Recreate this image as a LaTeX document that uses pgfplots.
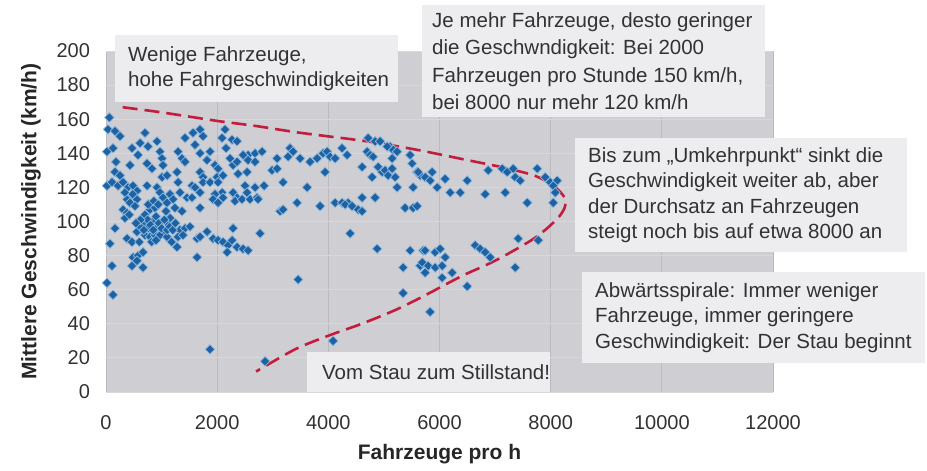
\documentclass[border=0pt]{standalone}
\usepackage{pgfplots}
\pgfplotsset{compat=1.18}
\usepackage{fontspec}
\setmainfont{Liberation Sans}
\definecolor{plotbg}{RGB}{206,206,211}
\definecolor{gridx}{RGB}{186,186,192}
\definecolor{gridy}{RGB}{216,216,220}
\definecolor{boxc}{RGB}{237,237,240}
\definecolor{txt}{RGB}{50,50,50}
\definecolor{curvec}{RGB}{196,28,60}
\definecolor{ptc}{RGB}{30,98,163}
\definecolor{pthalo}{RGB}{140,185,222}

\pgfplotstableread{
x y
60 161
36 154
162 153
252 150
18 141
126 143
180 135
162 129
252 127
18 121
108 123
216 121
306 123
396 120
486 121
558 118
468 114
558 113
378 113
432 111
306 107
378 105
342 102
522 109
162 96
378 90
468 88
72 87
486 79
576 80
666 82
468 74
558 77
666 73
108 74
18 64
126 57
702 152
468 143
612 146
756 144
918 147
972 141
576 139
1422 149
1566 152
1692 154
1746 150
1602 145
2142 154
2088 149
2268 148
2358 147
2160 143
2556 139
2682 140
432 133
738 134
828 131
1008 137
1026 133
1008 126
1098 127
1278 129
1296 141
1368 137
1422 135
1692 140
1872 141
1818 136
1962 133
2016 131
1692 129
1746 126
1998 126
2106 127
2232 137
2286 133
2358 135
2466 139
2556 136
2538 129
2682 135
2376 128
738 121
918 120
972 117
1026 114
1152 116
1206 113
1296 123
1332 117
1458 114
1548 121
1602 120
1746 123
1872 123
1692 117
2016 123
2088 117
2106 114
1962 116
2286 117
2358 114
2502 121
2538 117
2682 120
792 107
882 108
1098 111
1368 106
1548 114
1692 108
1926 113
2016 111
2322 112
2448 113
2592 113
2718 114
3132 106
666 98
756 96
846 100
936 97
1026 94
1098 99
1152 102
702 92
792 91
882 92
972 92
1098 91
558 94
612 97
1332 95
1422 96
1512 97
1296 91
1386 92
1638 90
1692 91
1818 94
1926 90
2016 89
2106 88
2196 86
2268 89
2358 85
2466 84
2556 83
2286 96
2772 93
2180 82
1278 85
1638 79
1872 25
2862 18
3456 66
2808 141
3078 137
2988 130
3078 131
2844 121
3186 123
3312 143
3366 141
3276 138
3492 137
3672 135
3798 137
3906 140
3978 141
4032 138
4122 137
3942 129
4248 143
4338 139
3618 120
3438 111
4122 111
4248 111
4356 111
4716 149
4842 147
4932 147
4698 141
4752 139
4806 138
4608 132
4788 126
4896 132
4968 129
5022 130
5076 127
5112 144
5166 142
5238 141
5148 137
5148 131
5202 126
5238 120
4608 114
4842 114
5472 139
5508 134
5598 129
5652 127
5526 120
2736 113
3186 107
3852 109
4302 110
4428 109
4536 107
4608 106
5382 108
5526 108
4392 93
4878 84
5472 83
5706 83
5346 73
5652 74
5346 58
4086 30
5058 144
5616 129
5742 126
5868 129
5832 124
5958 120
6102 125
6192 117
6372 117
6498 124
5598 109
6822 116
6876 130
7128 131
7218 129
7182 117
7362 126
7452 124
7326 131
7578 111
7758 131
7902 126
7992 123
8118 124
8046 121
8082 117
8046 111
7416 90
7776 89
6642 86
6732 84
6822 82
6912 79
7362 73
5742 83
5922 82
6012 84
6102 79
5688 76
5796 74
5922 73
6048 74
5742 70
6048 67
6228 70
6498 62
5832 47
700 104
750 101
800 98
850 95
900 103
950 99
1000 96
1050 101
1100 95
1150 97
620 101
680 95
820 88
900 89
1200 95
1250 99
1180 88
600 88
540 99
760 110
860 112
940 110
1080 106
1240 108
420 104
480 116
340 117
}\pts

\pgfplotstableread{
x y
300 167
1000 164
2000 159
2700 156
3500 152
4700 147
5600 142
6500 136
7100 132
7700 127
8050 121
8250 114
8250 108
8100 101
7700 90
7000 77
6400 68
5700 56
5200 48
4600 40
4000 33
3400 25
2700 12
}\curve

\begin{document}
\begin{tikzpicture}[
  boxtxt/.style={anchor=west, align=left, inner sep=0pt, text=txt,
    font=\fontsize{20.5bp}{25.5bp}\selectfont}]
\begin{axis}[
  at={(0,0)}, anchor=south west,
  scale only axis, width=667bp, height=341bp,
  xmin=0, xmax=12000, ymin=0, ymax=200,
  xtick={0,2000,...,12000}, ytick={0,20,...,200},
  axis background/.style={fill=plotbg},
  xmajorgrids, ymajorgrids,
  x grid style={gridx, line width=0.9bp},
  y grid style={gridy, line width=0.9bp},
  axis line style={draw=none},
  major tick length=0pt,
  tick label style={font=\fontsize{20bp}{24bp}\selectfont, text=txt},
  /pgf/number format/assume math mode=true,
  /pgf/number format/1000 sep={},
  scaled x ticks=false,
  xticklabel style={anchor=north, yshift=-20bp},
  yticklabel style={anchor=east, xshift=-12.5bp},
  xlabel={Fahrzeuge pro h},
  ylabel={Mittlere Geschwindigkeit (km/h)},
  every axis x label/.style={at={(axis description cs:0.5,0)}, yshift=-62bp, anchor=center},
  every axis y label/.style={at={(axis description cs:0,0.5)}, xshift=-75bp, rotate=90, anchor=center},
  label style={font=\bfseries\fontsize{21bp}{25bp}\selectfont, text=black!85},
  clip=false,
]
\addplot[only marks, mark=square*, mark size=3.4bp,
  mark options={rotate=45, fill=ptc, draw=pthalo, line width=0.7bp}] table[x=x,y=y] {\pts};
\addplot[smooth, curvec, line width=2.6bp, dash pattern=on 15bp off 7bp] table[x=x,y=y] {\curve};
\end{axis}

% annotation boxes (origin = lower-left of plot area, 1bp = 1px)
\fill[boxc] (9bp,290bp) rectangle (292bp,357bp);
\node[boxtxt] at (22bp,323.5bp) {Wenige Fahrzeuge,\\hohe Fahrgeschwindigkeiten};

\fill[boxc] (316bp,275bp) rectangle (659bp,387bp);
\node[boxtxt, font=\fontsize{20.5bp}{27.5bp}\selectfont] at (326bp,331bp) {Je mehr Fahrzeuge, desto geringer\\die Geschwndigkeit: Bei 2000\\Fahrzeugen pro Stunde 150 km/h,\\bei 8000 nur mehr 120 km/h};

\fill[boxc] (469bp,140bp) rectangle (801bp,254bp);
\node[boxtxt] at (482bp,197bp) {Bis zum „Umkehrpunkt“ sinkt die\\Geschwindigkeit weiter ab, aber\\der Durchsatz an Fahrzeugen\\steigt noch bis auf etwa 8000 an};

\fill[boxc] (476bp,29bp) rectangle (819bp,120bp);
\node[boxtxt] at (489bp,74.5bp) {Abwärtsspirale: Immer weniger\\Fahrzeuge, immer geringere\\Geschwindigkeit: Der Stau beginnt};

\fill[boxc] (201bp,0bp) rectangle (444bp,40bp);
\node[boxtxt] at (216bp,20bp) {Vom Stau zum Stillstand!};

\pgfresetboundingbox
\path[use as bounding box] (-106bp,-79bp) rectangle (821bp,392bp);
\end{tikzpicture}
\end{document}
